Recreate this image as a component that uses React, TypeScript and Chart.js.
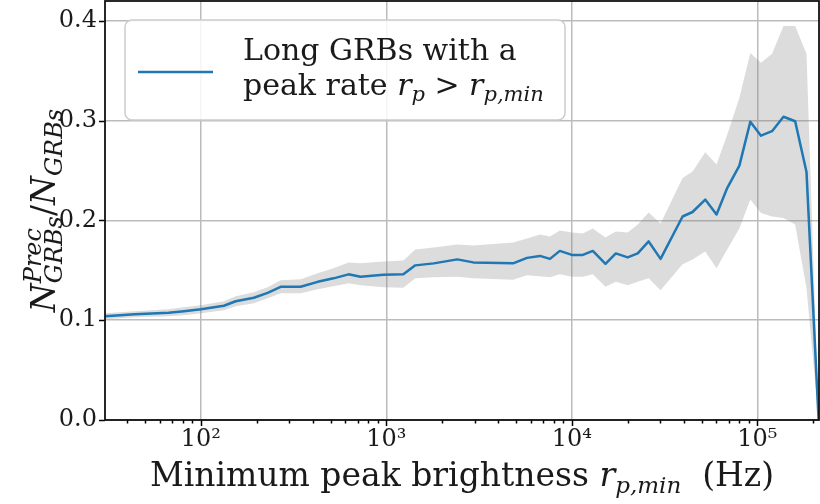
import React, { useEffect, useRef } from "react";
import { Chart, registerables } from "chart.js";

Chart.register(...registerables);

// ---- data ----
const peakRate = [
  30.4, 44, 67, 81, 100, 133, 154, 193, 229, 269, 345, 426, 519, 625, 725, 964,
  1234, 1432, 1800, 2410, 2940, 4820, 5730, 6730, 7620, 8610, 10000, 11460,
  12970, 15180, 17260, 20000, 22650, 25950, 30080, 39530, 44740, 52360, 60260,
  68770, 80020, 91660, 104600, 120000, 138400, 159900, 184100, 214000,
];
const fraction = [
  0.104, 0.106, 0.1075, 0.109, 0.111, 0.1145, 0.119, 0.1225, 0.1275, 0.1335,
  0.1335, 0.1385, 0.142, 0.146, 0.1435, 0.1455, 0.146, 0.155, 0.157, 0.161,
  0.158, 0.157, 0.1625, 0.1645, 0.1615, 0.1695, 0.1655, 0.1655, 0.1695, 0.1565,
  0.167, 0.163, 0.167, 0.179, 0.1615, 0.204, 0.2085, 0.221, 0.206, 0.2325,
  0.255, 0.299, 0.285, 0.2895, 0.304, 0.2995, 0.2485, 0.0,
];
const lowerBound = [
  0.101, 0.103, 0.104, 0.105, 0.107, 0.11, 0.114, 0.117, 0.122, 0.127, 0.127,
  0.131, 0.134, 0.137, 0.135, 0.133, 0.1325, 0.142, 0.143, 0.1435, 0.142,
  0.1405, 0.145, 0.144, 0.143, 0.146, 0.1435, 0.1435, 0.146, 0.1335, 0.1385,
  0.135, 0.1385, 0.142, 0.13, 0.156, 0.161, 0.169, 0.152, 0.171, 0.192, 0.221,
  0.2075, 0.204, 0.2025, 0.196, 0.132, 0.0,
];
const upperBound = [
  0.107, 0.109, 0.111, 0.113, 0.115, 0.119, 0.124, 0.128, 0.133, 0.14, 0.141,
  0.147, 0.152, 0.158, 0.157, 0.159, 0.16, 0.171, 0.173, 0.176, 0.175, 0.178,
  0.182, 0.186, 0.184, 0.19, 0.188, 0.187, 0.192, 0.183, 0.189, 0.188, 0.196,
  0.208, 0.197, 0.2425, 0.249, 0.2685, 0.256, 0.286, 0.323, 0.368, 0.358, 0.367,
  0.395, 0.395, 0.367, 0.0,
];
const yTicks = [0, 0.1, 0.2, 0.3, 0.4];
const xMajorTicks = [1e2, 1e3, 1e4, 1e5];
const xTickLabels = ["10²", "10³", "10⁴", "10⁵"];
const X_MIN = 30.4;
const X_MAX = 2.15e5;
const Y_MIN = 0;
const Y_MAX = 0.42;

const FAMILY = '"DejaVu Serif", "Liberation Serif", serif';
const LINE_COLOR = "#1f77b4";
const BAND_COLOR = "rgba(128,128,128,0.28)";
const GRID_COLOR = "#bbbbbb";
const TEXT_COLOR = "#1a1a1a";

type Seg = {
  t?: string;
  it?: boolean;
  size?: number;
  dy?: number;
  stack?: Seg[];
};

function fontOf(s: Seg) {
  return `${s.it ? "italic " : ""}${s.size}px ${FAMILY}`;
}

function segWidth(ctx: CanvasRenderingContext2D, s: Seg): number {
  if (s.stack) return Math.max(...s.stack.map((q) => segWidth(ctx, q)));
  ctx.font = fontOf(s);
  return ctx.measureText(s.t || "").width;
}

function drawSegs(ctx: CanvasRenderingContext2D, segs: Seg[], x: number, y: number) {
  let cx = x;
  for (const s of segs) {
    if (s.stack) {
      for (const q of s.stack) {
        ctx.font = fontOf(q);
        ctx.fillText(q.t || "", cx, y + (q.dy || 0));
      }
    } else {
      ctx.font = fontOf(s);
      ctx.fillText(s.t || "", cx, y + (s.dy || 0));
    }
    cx += segWidth(ctx, s);
  }
}

function totalWidth(ctx: CanvasRenderingContext2D, segs: Seg[]) {
  return segs.reduce((a, s) => a + segWidth(ctx, s), 0);
}

const yTitle: Seg[] = [
  { t: "N", it: true, size: 33 },
  {
    stack: [
      { t: "Prec", it: true, size: 24, dy: -14 },
      { t: "GRBs", it: true, size: 24, dy: 7 },
    ],
  },
  { t: "/", size: 33 },
  { t: "N", it: true, size: 33 },
  { t: "GRBs", it: true, size: 24, dy: 7 },
];

const xTitle: Seg[] = [
  { t: "Minimum peak brightness ", size: 33 },
  { t: "r", it: true, size: 33 },
  { t: "p,min", it: true, size: 23, dy: 7 },
  { t: "  (Hz)", size: 33 },
];

const legendLine1: Seg[] = [{ t: "Long GRBs with a", size: 30 }];
const legendLine2: Seg[] = [
  { t: "peak rate ", size: 30 },
  { t: "r", it: true, size: 30 },
  { t: "p", it: true, size: 21, dy: 6 },
  { t: " > ", size: 30 },
  { t: "r", it: true, size: 30 },
  { t: "p,min", it: true, size: 21, dy: 6 },
];

const decorPlugin = {
  id: "decor",
  afterDraw(chart: any) {
    const ctx: CanvasRenderingContext2D = chart.ctx;
    const { left, right, top, bottom } = chart.chartArea;
    const xs = chart.scales.x;
    const ys = chart.scales.y;
    ctx.save();

    // tick marks
    ctx.strokeStyle = "#000";
    ctx.lineWidth = 1.5;
    ctx.beginPath();
    for (const v of yTicks) {
      const y = Math.round(ys.getPixelForValue(v)) + 0.5;
      ctx.moveTo(left - 6, y);
      ctx.lineTo(left, y);
    }
    for (let d = 1; d <= 5; d++) {
      for (let m = 1; m <= 9; m++) {
        const v = m * Math.pow(10, d);
        if (v < X_MIN || v > X_MAX) continue;
        const x = Math.round(xs.getPixelForValue(v)) + 0.5;
        const len = m === 1 ? 6 : 3.5;
        ctx.moveTo(x, bottom);
        ctx.lineTo(x, bottom + len);
      }
    }
    ctx.stroke();

    // frame
    ctx.lineWidth = 1.8;
    ctx.strokeStyle = "#111";
    ctx.strokeRect(left, top, right - left, bottom - top);

    // legend
    ctx.beginPath();
    ctx.roundRect(125, 20, 440, 100, 7);
    ctx.fillStyle = "rgba(255,255,255,0.85)";
    ctx.fill();
    ctx.lineWidth = 1.5;
    ctx.strokeStyle = "#cccccc";
    ctx.stroke();
    ctx.beginPath();
    ctx.moveTo(138, 72);
    ctx.lineTo(213, 72);
    ctx.strokeStyle = LINE_COLOR;
    ctx.lineWidth = 2.5;
    ctx.stroke();
    ctx.fillStyle = TEXT_COLOR;
    ctx.textBaseline = "alphabetic";
    ctx.textAlign = "left";
    drawSegs(ctx, legendLine1, 243, 60);
    drawSegs(ctx, legendLine2, 243, 95);

    // x title
    const xw = totalWidth(ctx, xTitle);
    drawSegs(ctx, xTitle, (left + right) / 2 - xw / 2, 486);

    // y title
    const yw = totalWidth(ctx, yTitle);
    ctx.translate(55, (top + bottom) / 2);
    ctx.rotate(-Math.PI / 2);
    drawSegs(ctx, yTitle, -yw / 2, 0);

    ctx.restore();
  },
};

export default function App() {
  const ref = useRef<HTMLCanvasElement>(null);
  useEffect(() => {
    const canvas = ref.current!;
    const pts = (ys: number[]) => peakRate.map((x, i) => ({ x, y: ys[i] }));
    const chart = new Chart(canvas, {
      type: "line",
      data: {
        datasets: [
          {
            label: "Long GRBs with a peak rate r_p > r_p,min",
            data: pts(fraction),
            borderColor: LINE_COLOR,
            borderWidth: 2.5,
            pointRadius: 0,
            tension: 0,
            fill: false,
            order: 0,
            borderJoinStyle: "round",
          },
          {
            label: "lower",
            data: pts(lowerBound),
            borderColor: "rgba(0,0,0,0)",
            borderWidth: 0,
            pointRadius: 0,
            tension: 0,
            fill: false,
            order: 1,
          },
          {
            label: "upper",
            data: pts(upperBound),
            borderColor: "rgba(0,0,0,0)",
            borderWidth: 0,
            pointRadius: 0,
            tension: 0,
            fill: 1,
            backgroundColor: BAND_COLOR,
            order: 2,
          },
        ],
      } as any,
      options: {
        animation: false,
        responsive: false,
        devicePixelRatio: 1,
        layout: { padding: { top: 1, right: 1, left: 0, bottom: 0 } },
        plugins: {
          legend: { display: false },
          tooltip: { enabled: false },
        },
        scales: {
          x: {
            type: "logarithmic",
            min: X_MIN,
            max: X_MAX,
            afterBuildTicks: (s: any) => {
              s.ticks = xMajorTicks.map((v) => ({ value: v, major: true }));
            },
            afterFit: (s: any) => {
              s.height = 84;
              s.paddingLeft = 0;
              s.paddingRight = 0;
            },
            grid: { color: GRID_COLOR, lineWidth: 1.5, drawTicks: false },
            border: { display: false },
            ticks: {
              padding: 5,
              color: TEXT_COLOR,
              font: { family: FAMILY, size: 24 },
              maxRotation: 0,
              autoSkip: false,
              callback: (v: any) => {
                const i = xMajorTicks.indexOf(Number(v));
                return i >= 0 ? xTickLabels[i] : "";
              },
            },
          },
          y: {
            type: "linear",
            min: Y_MIN,
            max: Y_MAX,
            afterBuildTicks: (s: any) => {
              s.ticks = yTicks.map((v) => ({ value: v }));
            },
            afterFit: (s: any) => {
              s.width = 105;
              s.paddingTop = 0;
              s.paddingBottom = 0;
            },
            grid: { color: GRID_COLOR, lineWidth: 1.5, drawTicks: false },
            border: { display: false },
            ticks: {
              padding: 8,
              color: TEXT_COLOR,
              font: { family: FAMILY, size: 24 },
              callback: (v: any) => Number(v).toFixed(1),
            },
          },
        },
      } as any,
      plugins: [decorPlugin],
    });
    return () => chart.destroy();
  }, []);
  return (
    <div
      style={{
        position: "fixed",
        left: 0,
        top: 0,
        width: 820,
        height: 504,
        background: "#fff",
      }}
    >
      <canvas
        ref={ref}
        width={820}
        height={504}
        style={{ display: "block", width: 820, height: 504 }}
      />
    </div>
  );
}
